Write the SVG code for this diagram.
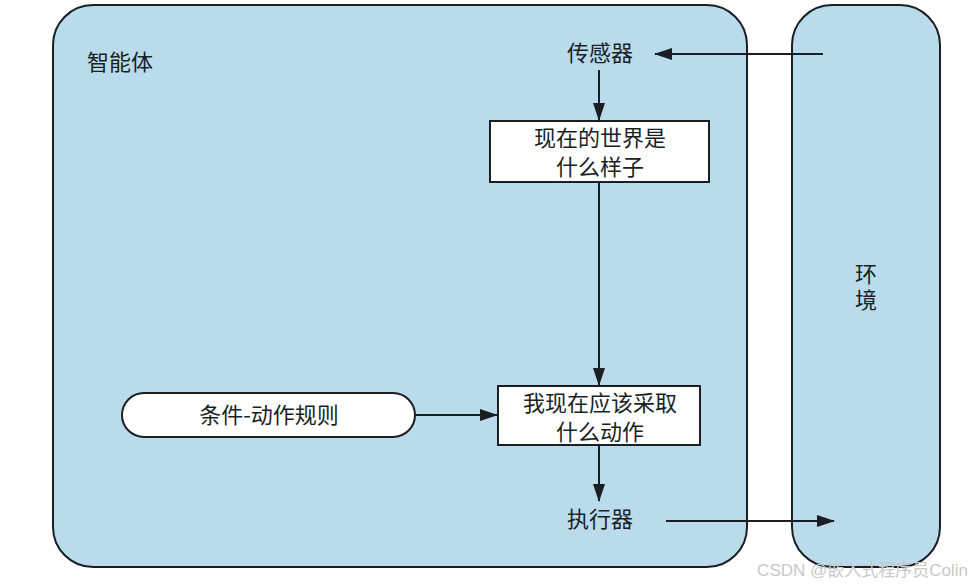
<svg xmlns="http://www.w3.org/2000/svg" width="970" height="587" viewBox="0 0 970 587">
<defs>
<marker id="ah" markerWidth="18" markerHeight="12" refX="17" refY="6" orient="auto" markerUnits="userSpaceOnUse">
<path d="M0,0 L18,6 L0,12 Z" fill="#1a1f24"/>
</marker>
<style>
.big{fill:#b9dbeb;stroke:#1a1f24;stroke-width:2}
.box{fill:#ffffff;stroke:#1a1f24;stroke-width:2}
.t{font-family:"Noto Sans CJK SC","Noto Sans",sans-serif;font-size:22px;fill:#1a1f24;text-anchor:middle}
.c{stroke:#1a1f24;stroke-width:2;fill:none;marker-end:url(#ah)}
</style>
</defs>
<rect width="970" height="587" fill="#ffffff"/>
<g id="agent">
<rect class="big" x="53" y="5" width="694" height="562" rx="40" ry="40"/>
<text class="t" x="120" y="70">智能体</text>
</g>
<g id="environment">
<rect class="big" x="792" y="5" width="148" height="562" rx="40" ry="40"/>
<text class="t" x="866" y="289" style="writing-mode:vertical-rl;letter-spacing:4px">环境</text>
</g>
<g id="sensor">
<text class="t" x="600" y="61">传感器</text>
</g>
<g id="world">
<rect class="box" x="490" y="121" width="219" height="61"/>
<text class="t" x="600" y="146">现在的世界是</text>
<text class="t" x="600" y="175">什么样子</text>
</g>
<g id="rules">
<rect class="box" x="122" y="393" width="293" height="44" rx="22" ry="22"/>
<text class="t" x="269" y="423">条件-动作规则</text>
</g>
<g id="action">
<rect class="box" x="498" y="386" width="202" height="59"/>
<text class="t" x="600" y="411">我现在应该采取</text>
<text class="t" x="600" y="440">什么动作</text>
</g>
<g id="effector">
<text class="t" x="600" y="527">执行器</text>
</g>
<g id="connectors">
<line class="c" x1="823" y1="54" x2="655" y2="54"/>
<line class="c" x1="599" y1="70" x2="599" y2="120"/>
<line class="c" x1="599" y1="182" x2="599" y2="385"/>
<line class="c" x1="415" y1="415" x2="497" y2="415"/>
<line class="c" x1="599" y1="445" x2="599" y2="501"/>
<line class="c" x1="666" y1="521" x2="834" y2="521"/>
</g>
<text x="968" y="576" font-family="'Liberation Sans','Noto Sans CJK SC',sans-serif" font-size="17" fill="#c8c8c8" text-anchor="end">CSDN @嵌入式程序员Colin</text>
</svg>
